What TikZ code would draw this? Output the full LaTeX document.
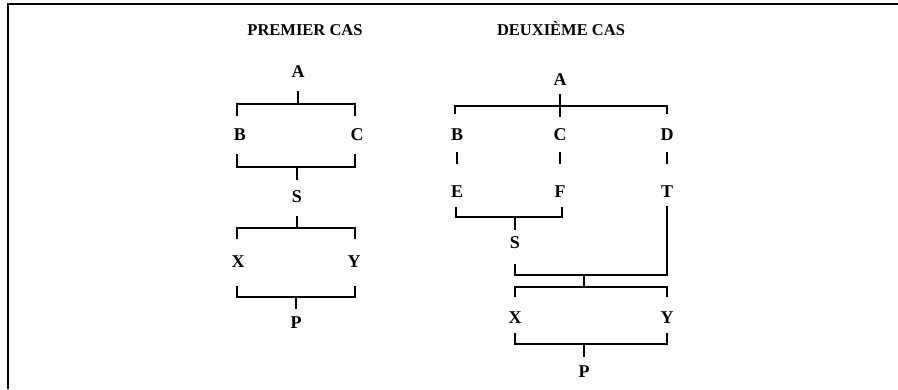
\documentclass[tikz,border=0pt]{standalone}
\usepackage{fontspec}
\setmainfont{Liberation Serif}
\begin{document}
\begin{tikzpicture}[x=1pt,y=-1pt,
  lbl/.style={font=\bfseries\fontsize{18}{18}\selectfont, inner sep=0pt},
  ttl/.style={font=\bfseries\fontsize{16.5}{16.5}\selectfont, inner sep=0pt, anchor=base},
  link/.style={line width=2pt, line cap=butt, line join=miter}]
\useasboundingbox (0,0) rectangle (898,389);

% open frame: top rule and left rule
\draw[line width=2.6pt] (8,389) -- (8,4) -- (898,4);

% titles
\node[ttl] (t1) at (305,35) {PREMIER CAS};
\node[ttl] (t2) at (561,35) {DEUXIÈME CAS};

% ---------- first case ----------
\node[lbl] (A1) at (298,72) {A};
\node[lbl] (B1) at (240,135) {B};
\node[lbl] (C1) at (357,135) {C};
\node[lbl] (S1) at (297,197) {S};
\node[lbl] (X1) at (238,262) {X};
\node[lbl] (Y1) at (354,262) {Y};
\node[lbl] (P1) at (296,323) {P};

% A splits into B and C
\coordinate (a1t) at (298,91);
\coordinate (a1j) at (298,104);
\draw[link] (237,116) |- (355,104) -- (355,116);
\draw[link] (a1t) -- (a1j);
% B and C merge into S
\coordinate (s1j) at (297,167);
\coordinate (s1t) at (297,180);
\draw[link] (237,154) |- (355,167) -- (355,154);
\draw[link] (s1j) -- (s1t);
% S splits into X and Y
\coordinate (s1b) at (297,216);
\coordinate (s1k) at (297,228);
\draw[link] (237,239) |- (355,228) -- (355,239);
\draw[link] (s1b) -- (s1k);
% X and Y merge into P
\coordinate (p1j) at (296,297);
\coordinate (p1t) at (296,309);
\draw[link] (237,286) |- (355,297) -- (355,286);
\draw[link] (p1j) -- (p1t);

% ---------- second case ----------
\node[lbl] (A2) at (560,80) {A};
\node[lbl] (B2) at (457,135) {B};
\node[lbl] (C2) at (560,135) {C};
\node[lbl] (D2) at (667,135) {D};
\node[lbl] (E2) at (457,192) {E};
\node[lbl] (F2) at (560,192) {F};
\node[lbl] (T2) at (667,192) {T};
\node[lbl] (S2) at (515,243) {S};
\node[lbl] (X2) at (515,318) {X};
\node[lbl] (Y2) at (667,318) {Y};
\node[lbl] (P2) at (584,372) {P};

% A splits into B, C and D
\draw[link] (455,114) |- (667,106) -- (667,114);
\draw[link] (560,94) -- (560,117);
% short links B-E, C-F, D-T
\draw[link] (457,152) -- (457,164);
\draw[link] (560,152) -- (560,164);
\draw[link] (667,152) -- (667,164);
% E and F merge into S
\draw[link] (456,207) |- (562,217) -- (562,207);
\draw[link] (515,217) -- (515,230);
% S and T merge
\draw[link] (515,264) |- (667,275) -- (667,206);
\draw[link] (584,275) -- (584,287);
% split into X and Y
\draw[link] (515,297) |- (667,287) -- (667,297);
% X and Y merge into P
\draw[link] (515,333) |- (667,344) -- (667,333);
\draw[link] (584,344) -- (584,357);
\end{tikzpicture}
\end{document}
